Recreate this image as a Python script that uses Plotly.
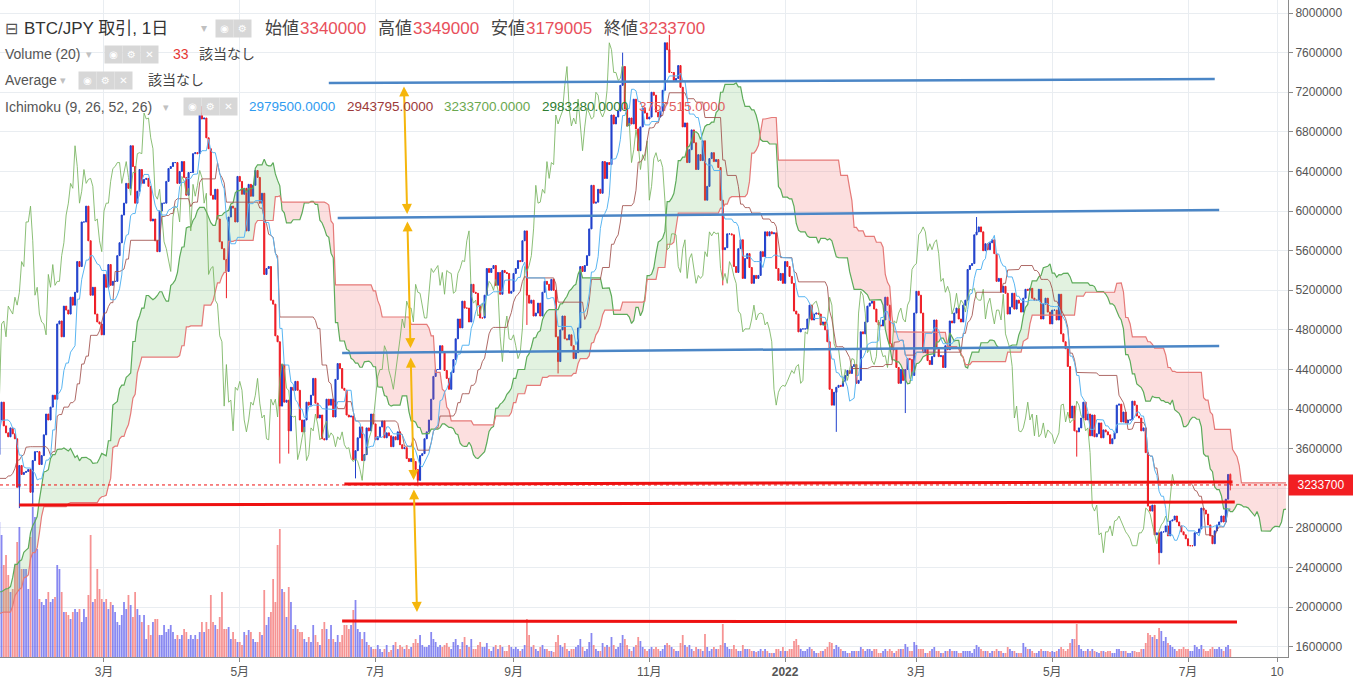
"""
plot.py - BTC/JPY daily chart (TradingView style) with Ichimoku cloud,
volume overlay and hand drawn levels. Writes out.html
"""
import numpy as np
import pandas as pd
import plotly.graph_objects as go

# daily closes in 万円 (10,000 JPY), one per day starting 2020-10-27
START = "2020-10-27"
CLOSE_MAN = [
    # 2020-10
    143, 139, 141, 142, 144,
    # 2020-11
    144, 142, 146, 148, 163, 163, 155, 162, 160, 160, 164, 170, 171, 168, 167,
    175, 185, 186, 186, 195, 196, 192, 192, 200, 196, 179, 179, 185, 190, 205,
    # 2020-12
    195, 199, 202, 194, 199, 201, 199, 190, 193, 190, 187, 195, 199, 200, 202,
    221, 237, 240, 248, 244, 236, 247, 241, 246, 256, 275, 273, 281, 284, 299, 301,
    # 2021-01
    305, 334, 343, 332, 353, 383, 409, 424, 419, 399, 370, 354, 389, 407, 383,
    376, 372, 381, 375, 370, 321, 343, 334, 336, 337, 339, 316, 348, 357, 357, 344,
    # 2021-02
    353, 374, 395, 389, 402, 414, 410, 486, 489, 473, 504, 500, 496, 513, 505,
    518, 549, 544, 589, 589, 605, 570, 515, 523, 496, 488, 486, 475,
    # 2021-03
    536, 523, 546, 525, 529, 529, 555, 568, 596, 608, 628, 623, 666, 645, 608,
    620, 642, 628, 632, 633, 625, 590, 592, 570, 559, 600, 608, 608, 630, 643, 645,
    # 2021-04
    649, 649, 628, 640, 650, 634, 616, 639, 639, 658, 659, 658, 699, 693, 694,
    674, 663, 616, 612, 622, 592, 569, 562, 551, 539, 594, 605, 603, 589, 635,
    # 2021-05
    630, 617, 623, 580, 627, 615, 626, 641, 634, 608, 618, 536, 542, 544, 510,
    506, 474, 468, 403, 445, 407, 409, 378, 422, 419, 428, 419, 389, 377, 389, 407,
    # 2021-06
    404, 414, 431, 406, 391, 394, 370, 369, 410, 404, 410, 392, 430, 446, 441,
    421, 419, 394, 392, 393, 349, 358, 371, 382, 348, 354, 381, 378, 395, 385,
    # 2021-07
    369, 372, 382, 388, 371, 376, 373, 362, 372, 369, 377, 364, 360, 361, 350,
    347, 350, 347, 339, 328, 353, 355, 370, 377, 389, 410, 433, 440, 440, 464, 458,
    # 2021-08
    439, 431, 420, 437, 450, 471, 491, 482, 509, 502, 502, 488, 526, 518, 517,
    505, 492, 492, 515, 542, 538, 542, 545, 525, 538, 516, 540, 538, 537, 517, 519,
    # 2021-09
    537, 542, 550, 549, 570, 580, 515, 507, 510, 494, 497, 507, 494, 518, 529,
    526, 520, 531, 520, 473, 448, 480, 494, 471, 470, 475, 464, 451, 457, 482,
    # 2021-10
    544, 539, 545, 555, 582, 626, 608, 609, 622, 618, 650, 633, 649, 647, 697,
    688, 695, 701, 727, 746, 703, 686, 694, 688, 713, 683, 661, 685, 704, 699, 693,
    # 2021-11
    695, 720, 717, 700, 695, 701, 722, 770, 763, 740, 740, 732, 734, 747, 725,
    685, 689, 649, 662, 682, 669, 642, 657, 651, 671, 611, 625, 653, 659, 650,
    # 2021-12
    652, 644, 611, 561, 563, 577, 577, 576, 544, 538, 562, 571, 532, 552, 557,
    543, 527, 535, 532, 535, 559, 554, 579, 575, 579, 577, 578, 542, 530, 537, 527,
    # 2022-01
    549, 544, 534, 527, 499, 496, 478, 481, 481, 481, 491, 505, 490, 496, 497,
    496, 485, 488, 480, 468, 420, 404, 417, 422, 424, 423, 428, 434, 439, 436, 443,
    # 2022-02
    445, 426, 429, 478, 476, 488, 504, 507, 509, 501, 488, 485, 484, 490, 513,
    505, 466, 460, 461, 442, 426, 440, 429, 440, 451, 450, 434, 497,
    # 2022-03
    519, 515, 497, 457, 461, 449, 445, 453, 490, 461, 453, 454, 442, 464, 460,
    489, 487, 497, 502, 491, 488, 505, 510, 541, 545, 547, 576, 579, 584, 579, 560,
    # 2022-04
    567, 561, 568, 571, 557, 529, 532, 518, 524, 517, 496, 503, 517, 501, 510,
    507, 498, 512, 521, 520, 522, 512, 510, 510, 521, 491, 506, 512, 498, 486,
    # 2022-05
    500, 500, 490, 516, 476, 468, 461, 443, 391, 403, 378, 377, 381, 391, 407,
    389, 395, 373, 394, 372, 375, 386, 371, 379, 377, 374, 365, 370, 376, 404, 405,
    # 2022-06
    387, 397, 386, 389, 389, 408, 404, 393, 391, 378, 381, 356, 302, 297, 303,
    273, 275, 255, 276, 276, 282, 272, 287, 288, 292, 286, 282, 276, 273, 269,
    # 2022-07
    262, 262, 262, 275, 275, 279, 300, 298, 294, 283, 272, 264, 277, 283, 286,
    292, 286, 309, 334, 323.37,
]

# long wicks that stand out on the chart: date, extreme price (万円)
WICKS = [
    ("2021-01-22", 300), ("2021-01-28", 302), ("2021-04-14", 706), ("2021-04-25", 512),
    ("2021-05-19", 345), ("2021-05-23", 355), ("2021-06-22", 330), ("2021-07-20", 322),
    ("2021-09-07", 485), ("2021-09-21", 436), ("2021-10-20", 760), ("2021-11-10", 778),
    ("2021-12-04", 525), ("2022-01-24", 377), ("2022-02-24", 396), ("2022-03-28", 594),
    ("2022-05-12", 352), ("2022-06-18", 243),
]

# last candle as shown in the header: 始値 高値 安値 終値
LAST_OHLC = [3340000, 3349000, 3179005, 3233700]

# volume bars (relative heights), one per day starting 2021-01-13
VOL_START = "2021-01-13"
VOLUME = [
    # 2021-01
    135, 122, 92, 102, 82, 65, 68, 92, 115, 130, 88, 88, 88, 68, 120, 150, 140, 108, 58,
    # 2021-02
    55, 52, 58, 65, 55, 58, 60, 92, 88, 65, 45, 45, 42, 38, 45, 48, 45, 48, 35, 48,
    40, 62, 122, 55, 58, 88, 68, 58,
    # 2021-03
    55, 58, 48, 55, 52, 45, 35, 32, 42, 55, 48, 62, 52, 40, 65, 48, 42, 35, 42, 18,
    32, 22, 35, 38, 38, 22, 22, 32, 25, 28, 32,
    # 2021-04
    25, 18, 22, 18, 22, 28, 25, 18, 22, 18, 22, 18, 25, 35, 25, 35, 28, 62, 35, 32,
    28, 40, 65, 28, 28, 30, 18, 25, 18, 15,
    # 2021-05
    15, 12, 25, 22, 27, 25, 18, 15, 15, 25, 22, 67, 32, 40, 45, 78, 55, 112, 128, 68,
    65, 40, 70, 55, 28, 32, 28, 25, 25, 18, 15,
    # 2021-06
    20, 15, 32, 22, 15, 12, 28, 35, 28, 18, 32, 18, 15, 22, 15, 22, 32, 32, 28, 32,
    47, 57, 28, 25, 18, 25, 15, 12, 10, 8,
    # 2021-07
    8, 12, 8, 5, 8, 12, 5, 7, 12, 15, 8, 12, 10, 8, 12, 8, 10, 14, 18, 14,
    22, 12, 10, 10, 12, 25, 18, 15, 10, 12, 10,
    # 2021-08
    12, 14, 10, 8, 15, 18, 12, 8, 15, 20, 12, 10, 18, 8, 8, 12, 15, 10, 10, 14,
    8, 6, 10, 12, 8, 12, 10, 6, 6, 12, 10,
    # 2021-09
    8, 10, 8, 6, 8, 12, 38, 22, 10, 12, 8, 6, 10, 12, 8, 8, 6, 6, 5, 15,
    22, 12, 10, 14, 8, 6, 8, 8, 10, 12,
    # 2021-10
    18, 10, 6, 8, 15, 24, 12, 8, 6, 6, 14, 10, 12, 10, 20, 12, 8, 10, 14, 22,
    18, 12, 8, 6, 10, 12, 20, 16, 10, 8, 6,
    # 2021-11
    8, 10, 8, 10, 8, 6, 8, 12, 14, 12, 10, 8, 6, 6, 14, 22, 12, 10, 12, 8,
    6, 10, 8, 8, 6, 23, 10, 6, 8, 10,
    # 2021-12
    8, 8, 12, 33, 14, 10, 8, 8, 12, 8, 6, 6, 12, 8, 8, 8, 6, 6, 5, 6,
    8, 6, 8, 6, 4, 4, 4, 8, 8, 6, 10,
    # 2022-01
    6, 6, 8, 8, 16, 18, 12, 8, 6, 6, 8, 10, 8, 6, 4, 4, 6, 6, 8, 10,
    15, 14, 8, 12, 10, 8, 6, 6, 4, 4, 6,
    # 2022-02
    6, 6, 6, 10, 8, 6, 8, 8, 6, 8, 8, 4, 4, 6, 8, 6, 8, 6, 4, 6,
    8, 8, 8, 13, 10, 6, 6, 15,
    # 2022-03
    12, 8, 8, 8, 4, 4, 6, 8, 10, 6, 6, 4, 4, 6, 6, 8, 6, 6, 6, 4,
    4, 6, 6, 6, 6, 4, 8, 12, 10, 8, 6,
    # 2022-04
    6, 6, 4, 6, 6, 8, 6, 6, 4, 4, 10, 8, 6, 6, 4, 4, 4, 14, 10, 8,
    8, 6, 4, 4, 6, 8, 6, 6, 6, 5,
    # 2022-05
    6, 5, 6, 8, 10, 8, 6, 8, 14, 18, 18, 33, 12, 8, 6, 6, 8, 6, 8, 6,
    5, 4, 6, 6, 5, 6, 6, 4, 4, 8, 8,
    # 2022-06
    6, 6, 6, 4, 4, 6, 6, 5, 5, 8, 8, 14, 24, 22, 20, 22, 18, 29, 26, 16,
    20, 14, 12, 10, 8, 6, 8, 8, 10, 8,
    # 2022-07
    8, 6, 6, 12, 10, 8, 12, 8, 6, 6, 8, 10, 8, 8, 10, 8, 6, 10, 12, 8,
]

# indicator header values
ICHI_VALUES = ["2979500.0000", "2943795.0000", "3233700.0000", "2983280.0000", "3757515.0000"]
ICHI_COLORS = ["#2f9bf0", "#9c3a3a", "#6aa84f", "#2e7d32", "#e06060"]

# x axis labels
TICK_DATES = ["2021-03-01", "2021-05-01", "2021-07-01", "2021-09-01", "2021-11-01",
              "2022-01-01", "2022-03-01", "2022-05-01", "2022-07-01", "2022-08-10"]
TICK_TEXT = ["3月", "5月", "7月", "9月", "11月", "<b>2022</b>", "3月", "5月", "7月", "10"]
PRICE_TICKS = list(range(1600000, 8000001, 400000))
HIDDEN_TICK = 3200000  # covered by the last price tag

# hand drawn trend lines: start date, end date, start price, end price
BLUE_LINES = [
    ("2021-06-10", "2022-07-13", 7294000, 7334000),
    ("2021-06-14", "2022-07-15", 5930000, 6011000),
    ("2021-06-16", "2022-07-15", 4567000, 4637000),
]
RED_LINES = [
    ("2021-06-17", "2022-07-21", 3243000, 3264000),
    ("2021-01-22", "2022-07-22", 3031000, 3062000),
    ("2021-06-16", "2022-07-23", 1860000, 1850000),
]
# orange measuring arrows (double headed)
ARROWS = [
    ("2021-07-13 18:00", "2021-07-15 05:00", 7274000, 5971000),
    ("2021-07-15 07:00", "2021-07-16 17:00", 5910000, 4617000),
    ("2021-07-16 19:00", "2021-07-18 03:00", 4536000, 3284000),
    ("2021-07-18 05:00", "2021-07-19 15:00", 3203000, 1951000),
]

FONT = "Liberation Sans, Noto Sans CJK JP, sans-serif"
PLOT_W, PLOT_H = 1288, 657
UP, DOWN = "#2040cc", "#ee1c24"
ORANGE = "#f5b60c"


def build_ohlc():
    """open = previous close (24h market), wicks from WICKS, last bar from the header"""
    close = np.array(CLOSE_MAN, dtype=float) * 10000
    open_ = np.r_[close[0], close[:-1]]
    high = np.maximum(open_, close)
    low = np.minimum(open_, close)
    dates = pd.date_range(START, periods=len(close), freq="D")
    for day, price in WICKS:
        i = dates.get_loc(pd.Timestamp(day))
        high[i] = max(high[i], price * 10000)
        low[i] = min(low[i], price * 10000)
    open_[-1], high[-1], low[-1], close[-1] = LAST_OHLC
    return dates, open_, high, low, close


def cloud_traces(x, a, b):
    """fill between span A and span B, green when A above, red otherwise"""
    traces = []
    n = len(a)
    up = a >= b
    s = int(np.where(~(np.isnan(a) | np.isnan(b)))[0][0])
    while s < n:
        e = s
        while e + 1 < n and up[e + 1] == up[s]:
            e += 1
        stop = min(e + 2, n)
        xs = list(x[s:stop]) + list(x[s:stop][::-1])
        ys = list(a[s:stop]) + list(b[s:stop][::-1])
        color = "rgba(110,190,100,0.20)" if up[s] else "rgba(240,110,110,0.22)"
        traces.append(go.Scatter(x=xs, y=ys, fill="toself", fillcolor=color, mode="lines",
                                 line=dict(width=0), hoverinfo="skip", yaxis="y2"))
        s = e + 1
    return traces


def text(x, y, txt, color="#4a4a4a", size=14):
    return dict(xref="paper", yref="paper", x=x / PLOT_W, y=1 - y / PLOT_H,
                xanchor="left", yanchor="middle", text=txt, showarrow=False,
                font=dict(family=FONT, size=size, color=color))


def icon(x, y, glyph):
    return dict(xref="paper", yref="paper", x=x / PLOT_W, y=1 - y / PLOT_H,
                xanchor="center", yanchor="middle", text=glyph, showarrow=False,
                bgcolor="#d7d7d7", width=15, height=15,
                font=dict(family="DejaVu Sans", size=10, color="white"))


dates, open_, high, low, close = build_ohlc()

# ichimoku (9, 26, 52, 26)
hi, lo = pd.Series(high), pd.Series(low)
tenkan = ((hi.rolling(9).max() + lo.rolling(9).min()) / 2).values
kijun = ((hi.rolling(26).max() + lo.rolling(26).min()) / 2).values
span_a = (tenkan + kijun) / 2
span_b = ((hi.rolling(52).max() + lo.rolling(52).min()) / 2).values
shift = 25
all_dates = pd.date_range(START, periods=len(close) + shift, freq="D")
lead_x = all_dates[shift:]

fig = go.Figure()

# volume on the base axis so price sits on top
v0 = dates.get_loc(pd.Timestamp(VOL_START))
vol_dates = dates[v0:v0 + len(VOLUME)]
vol_up = close[v0:v0 + len(VOLUME)] >= open_[v0:v0 + len(VOLUME)]
fig.add_trace(go.Bar(x=vol_dates, y=VOLUME, yaxis="y",
                     marker=dict(color=["rgba(90,90,235,0.72)" if u else "rgba(242,105,105,0.72)"
                                        for u in vol_up], line=dict(width=0)),
                     hoverinfo="skip"))

for tr in cloud_traces(lead_x, span_a, span_b):
    fig.add_trace(tr)

fig.add_trace(go.Candlestick(x=dates, open=open_, high=high, low=low, close=close, yaxis="y2",
                             increasing=dict(line=dict(color=UP, width=1), fillcolor=UP),
                             decreasing=dict(line=dict(color=DOWN, width=1), fillcolor=DOWN),
                             whiskerwidth=0))

fig.add_trace(go.Scatter(x=lead_x, y=span_a, mode="lines", yaxis="y2",
                         line=dict(color="#5dab5a", width=1.2), hoverinfo="skip"))
fig.add_trace(go.Scatter(x=lead_x, y=span_b, mode="lines", yaxis="y2",
                         line=dict(color="#e57a78", width=1.2), hoverinfo="skip"))
fig.add_trace(go.Scatter(x=dates[:len(close) - shift], y=close[shift:], mode="lines", yaxis="y2",
                         line=dict(color="rgba(120,180,95,0.85)", width=1), hoverinfo="skip"))
fig.add_trace(go.Scatter(x=dates, y=kijun, mode="lines", yaxis="y2",
                         line=dict(color="rgba(160,80,75,0.85)", width=1), hoverinfo="skip"))
fig.add_trace(go.Scatter(x=dates, y=tenkan, mode="lines", yaxis="y2",
                         line=dict(color="#5ab6f2", width=1), hoverinfo="skip"))

shapes = []
for x0, x1, y0, y1 in BLUE_LINES:
    shapes.append(dict(type="line", xref="x", yref="y2", x0=x0, x1=x1, y0=y0, y1=y1,
                       layer="above", line=dict(color="#4b86c6", width=2.5)))
for x0, x1, y0, y1 in RED_LINES:
    shapes.append(dict(type="line", xref="x", yref="y2", x0=x0, x1=x1, y0=y0, y1=y1,
                       layer="above", line=dict(color="#ee1111", width=3)))
# last price line
shapes.append(dict(type="line", xref="paper", yref="y2", x0=0, x1=1,
                   y0=LAST_OHLC[3], y1=LAST_OHLC[3], layer="above",
                   line=dict(color="#ee1111", width=1, dash="dot")))

annotations = []
for x0, x1, y0, y1 in ARROWS:
    annotations.append(dict(x=x1, y=y1, ax=x0, ay=y0, xref="x", yref="y2", axref="x", ayref="y2",
                            text="", showarrow=True, arrowside="end+start", arrowhead=2,
                            startarrowhead=2, arrowsize=1, startarrowsize=1, arrowwidth=2,
                            arrowcolor=ORANGE, standoff=0, startstandoff=0))

# last price tag on the axis
annotations.append(dict(xref="paper", yref="y2", x=1, y=LAST_OHLC[3], xanchor="left",
                        yanchor="middle", text="3233700", showarrow=False, bgcolor="#f21e22",
                        borderpad=3, width=58, font=dict(family=FONT, size=12, color="white")))

# header rows
RED_TXT = "#e8505b"
annotations += [
    text(3, 28, "⊟", "#555", 16),
    text(22, 28, "BTC/JPY 取引, 1日", "#333", 17),
    text(199, 28, "▾", "#c0c0c0", 12),
    icon(224, 28, "◉"), icon(242, 28, "⚙"),
    text(263, 28, "始値", "#444", 17), text(298, 28, "3340000", RED_TXT, 17),
    text(376, 28, "高値", "#444", 17), text(411, 28, "3349000", RED_TXT, 17),
    text(489, 28, "安値", "#444", 17), text(524, 28, "3179005", RED_TXT, 17),
    text(602, 28, "終値", "#444", 17), text(637, 28, "3233700", RED_TXT, 17),

    text(3, 54, "Volume (20)", "#555", 14), text(84, 54, "▾", "#c0c0c0", 11),
    icon(113, 54, "◉"), icon(131, 54, "⚙"), icon(149, 54, "✕"),
    text(171, 54, "33", "#e53935", 14), text(197, 54, "該当なし", "#444", 14),

    text(3, 80, "Average", "#555", 14), text(58, 80, "▾", "#c0c0c0", 11),
    icon(87, 80, "◉"), icon(105, 80, "⚙"), icon(123, 80, "✕"),
    text(146, 80, "該当なし", "#444", 14),

    text(3, 107, "Ichimoku (9, 26, 52, 26)", "#555", 14), text(161, 107, "▾", "#c0c0c0", 11),
    icon(192, 107, "◉"), icon(210, 107, "⚙"), icon(228, 107, "✕"),
]
for i, (val, col) in enumerate(zip(ICHI_VALUES, ICHI_COLORS)):
    annotations.append(text(247 + i * 97.5, 107, val, col, 13.5))

fig.update_layout(
    width=1353, height=683,
    margin=dict(l=0, r=65, t=0, b=26),
    paper_bgcolor="white", plot_bgcolor="white",
    showlegend=False, bargap=0.2,
    xaxis=dict(type="date", range=["2021-01-13 07:00", "2022-08-14 22:00"],
               tickvals=TICK_DATES, ticktext=TICK_TEXT, showgrid=True, gridcolor="#e9edf1",
               showline=True, linecolor="#8a8a8a", ticks="outside", ticklen=4, tickcolor="#8a8a8a",
               tickfont=dict(family=FONT, size=12, color="#555"),
               rangeslider=dict(visible=False), zeroline=False),
    yaxis=dict(range=[0, PLOT_H], visible=False, fixedrange=True),
    yaxis2=dict(overlaying="y", side="right", range=[1496000, 8132000],
                tickvals=PRICE_TICKS,
                ticktext=["" if v == HIDDEN_TICK else str(v) for v in PRICE_TICKS],
                showgrid=True, gridcolor="#e9edf1", zeroline=False,
                showline=True, linecolor="#8a8a8a", ticks="outside", ticklen=4, tickcolor="#8a8a8a",
                tickfont=dict(family=FONT, size=12, color="#555")),
    shapes=shapes,
    annotations=annotations,
)

# the page body has a default margin; drop it so the chart fills the window
fig.write_html("out.html", config={"displayModeBar": False},
               post_script="document.body.style.margin='0';")
